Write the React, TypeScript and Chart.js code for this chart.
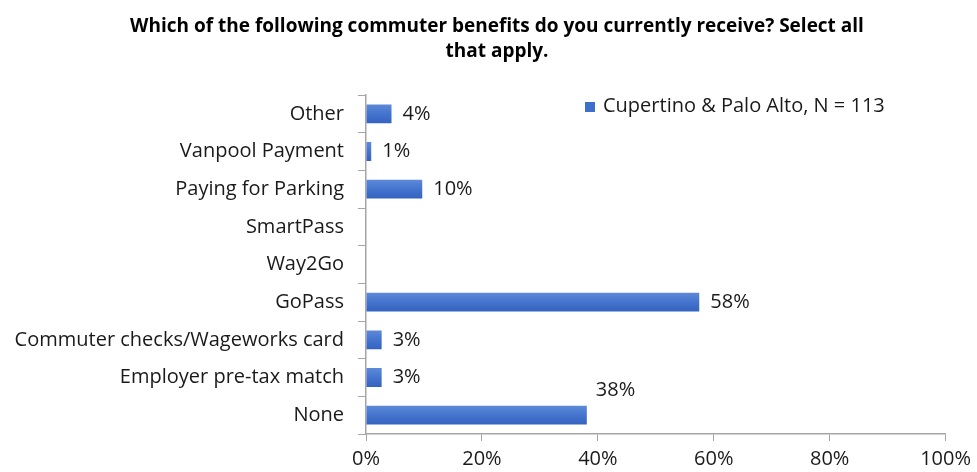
import React, { useEffect, useRef } from "react";
import { Chart, registerables } from "chart.js";

Chart.register(...registerables);

const titleLines = [
  "Which of the following commuter benefits do you currently receive? Select all",
  "that apply.",
];
const categories = [
  "Other",
  "Vanpool Payment",
  "Paying for Parking",
  "SmartPass",
  "Way2Go",
  "GoPass",
  "Commuter checks/Wageworks card",
  "Employer pre-tax match",
  "None",
];
const values = [4.4, 0.9, 9.7, 0, 0, 57.5, 2.7, 2.7, 38.1];
const valueLabels = ["4%", "1%", "10%", "", "", "58%", "3%", "3%", "38%"];
const seriesName = "Cupertino & Palo Alto, N = 113";
const xTicks = [0, 20, 40, 60, 80, 100];

const FONT = "'Open Sans', 'Noto Sans', sans-serif";
const TEXT = "#1a1a1a";
const AXIS = "#a6a6a6";

const labelPlugin = {
  id: "valueLabels",
  afterDatasetsDraw(chart: any) {
    const { ctx } = chart;
    const meta = chart.getDatasetMeta(0);
    ctx.save();
    ctx.font = `20px ${FONT}`;
    ctx.fillStyle = TEXT;
    ctx.textBaseline = "middle";
    ctx.textAlign = "left";
    meta.data.forEach((bar: any, i: number) => {
      const t = valueLabels[i];
      if (!t) return;
      if (i === categories.length - 1) {
        ctx.fillText(t, bar.x + 9, bar.y - 25);
      } else {
        ctx.fillText(t, bar.x + 11, bar.y);
      }
    });
    ctx.restore();
  },
};

const legendPlugin = {
  id: "customLegend",
  afterLayout(chart: any) {
    // centre the title like the reference (slightly right of canvas centre)
    if (chart.titleBlock) {
      chart.titleBlock.left = 17;
      chart.titleBlock.right = 977;
    }
  },
  afterDraw(chart: any) {
    const { ctx } = chart;
    ctx.save();
    ctx.fillStyle = "#3F6FCC";
    ctx.fillRect(585, 102, 10, 10);
    ctx.font = `20px ${FONT}`;
    ctx.fillStyle = TEXT;
    ctx.textBaseline = "middle";
    ctx.textAlign = "left";
    ctx.fillText(chart.data.datasets[0].label, 603, 106);
    ctx.restore();
  },
};

export default function App() {
  const ref = useRef<HTMLCanvasElement | null>(null);
  useEffect(() => {
    document.body.style.margin = "0";
    const canvas = ref.current!;
    const chart = new Chart(canvas, {
      type: "bar",
      data: {
        labels: categories,
        datasets: [
          {
            label: seriesName,
            data: values,
            backgroundColor: (c: any) => {
              const ch = c.chart;
              const ys = ch.scales && ch.scales.y;
              if (!ch.chartArea || !ys) return "#3F6FCC";
              const yc = ys.getPixelForValue(c.dataIndex);
              const g = ch.ctx.createLinearGradient(0, yc - 10, 0, yc + 10);
              g.addColorStop(0, "#5F8BD8");
              g.addColorStop(0.5, "#4474CE");
              g.addColorStop(1, "#3461BF");
              return g;
            },
            borderWidth: 0,
            barPercentage: 0.5,
            categoryPercentage: 1,
          },
        ],
      },
      options: {
        indexAxis: "y",
        animation: false,
        responsive: false,
        maintainAspectRatio: false,
        layout: { padding: { left: 0, right: 30, top: 0, bottom: 0 } },
        plugins: {
          legend: { display: false },
          tooltip: { enabled: false },
          title: {
            display: true,
            text: titleLines,
            color: "#000",
            font: { family: FONT, size: 19, weight: "bold", lineHeight: 25 / 19 },
            padding: { top: 14, bottom: 31 },
          },
        },
        scales: {
          x: {
            min: 0,
            max: 100,
            afterBuildTicks: (s: any) => {
              s.ticks = xTicks.map((v) => ({ value: v }));
            },
            afterFit: (s: any) => {
              s.height = 38;
            },
            ticks: {
              callback: (v: any) => v + "%",
              color: TEXT,
              font: { family: FONT, size: 20 },
              padding: 6,
              maxRotation: 0,
            },
            grid: {
              drawOnChartArea: false,
              drawTicks: true,
              tickLength: 7,
              color: AXIS,
            },
            border: { display: true, color: AXIS, width: 1.5 },
          },
          y: {
            afterFit: (s: any) => {
              s.width = 366;
            },
            ticks: {
              color: TEXT,
              font: { family: FONT, size: 20 },
              padding: 14,
              autoSkip: false,
            },
            grid: {
              drawOnChartArea: false,
              drawTicks: true,
              tickLength: 8,
              color: AXIS,
              offset: true,
            },
            border: { display: true, color: AXIS, width: 1.5 },
          },
        },
      },
      plugins: [labelPlugin, legendPlugin],
    });
    return () => chart.destroy();
  }, []);
  return <canvas ref={ref} width={977} height={472} style={{ display: "block" }} />;
}
